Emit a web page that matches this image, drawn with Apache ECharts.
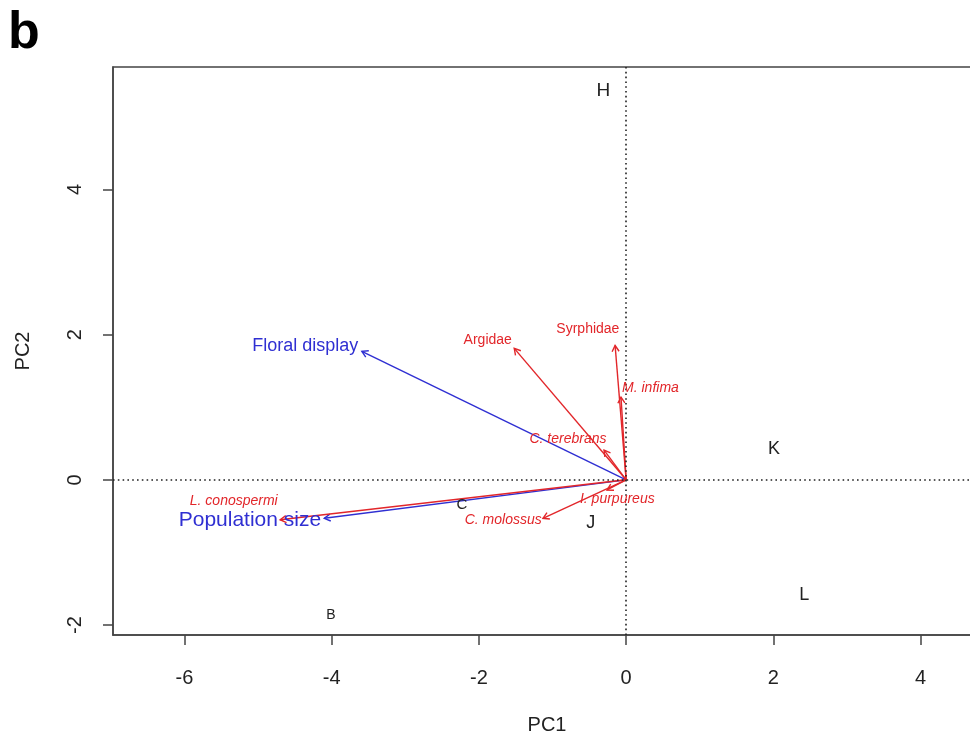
<!DOCTYPE html>
<html>
<head>
<meta charset="utf-8">
<script src="https://cdn.jsdelivr.net/npm/echarts@6/dist/echarts.min.js"></script>
<style>
  html, body { margin: 0; padding: 0; background: #fff; overflow: hidden; }
  #chart { width: 990px; height: 740px; }
</style>
</head>
<body>
<div id="chart"></div>
<script>
// Site scores on the first two principal components
const siteNames = ['H', 'K', 'L', 'J', 'C', 'B'];
const sitePC1 = [-0.31, 2.01, 2.42, -0.48, -2.23, -4.01];
const sitePC2 = [5.36, 0.42, -1.58, -0.59, -0.34, -1.86];

// Plant trait loadings (blue arrows)
const traitNames = ['Floral display', 'Population size'];
const traitPC1 = [-3.59, -4.10];
const traitPC2 = [1.77, -0.53];
const traitLabelPC1 = [-4.36, -5.11];
const traitLabelPC2 = [1.84, -0.56];

// Visitor taxon loadings (red arrows)
const taxonNames = ['L. conospermi', 'Argidae', 'Syrphidae', 'M. infima', 'C. terebrans', 'I. purpureus', 'C. molossus'];
const taxonPC1 = [-4.70, -1.52, -0.15, -0.07, -0.30, -0.26, -1.13];
const taxonPC2 = [-0.55, 1.81, 1.85, 1.14, 0.41, -0.14, -0.53];
const taxonLabelPC1 = [-5.33, -1.88, -0.52, 0.33, -0.79, -0.12, -1.67];
const taxonLabelPC2 = [-0.29, 1.93, 2.07, 1.26, 0.56, -0.26, -0.55];

// Axis tick labels
const xTicks = [-6, -4, -2, 0, 2, 4];
const yTicks = [-2, 0, 2, 4];

// Styling
const FONT = '"Liberation Sans", Arial, sans-serif';
const RED = '#e2262a';
const BLUE = '#2f2fd2';
const INK = '#222';
const siteFontSize = { H: 19, K: 18, L: 18, J: 18, C: 15, B: 14 };
const traitFontSize = { 'Floral display': 18, 'Population size': 21 };
const italicTaxa = new Set(['L. conospermi', 'M. infima', 'C. terebrans', 'I. purpureus', 'C. molossus']);

function arrowRenderer(color) {
  return function (params, api) {
    const o = api.coord([0, 0]);
    const t = api.coord([api.value(0), api.value(1)]);
    const ang = Math.atan2(t[1] - o[1], t[0] - o[0]);
    const len = 7, spread = Math.PI / 6;
    const h1 = [t[0] - len * Math.cos(ang - spread), t[1] - len * Math.sin(ang - spread)];
    const h2 = [t[0] - len * Math.cos(ang + spread), t[1] - len * Math.sin(ang + spread)];
    const style = { stroke: color, lineWidth: 1.4, fill: null };
    return {
      type: 'group',
      children: [
        { type: 'line', shape: { x1: o[0], y1: o[1], x2: t[0], y2: t[1] }, style: style },
        { type: 'polyline', shape: { points: [h1, t, h2] }, style: style }
      ]
    };
  };
}

function textRenderer(names, fontFor, color) {
  return function (params, api) {
    const p = api.coord([api.value(0), api.value(1)]);
    const name = names[params.dataIndex];
    return {
      type: 'text',
      x: p[0], y: p[1],
      style: {
        text: name,
        font: fontFor(name),
        fill: color,
        align: 'center',
        verticalAlign: 'middle'
      }
    };
  };
}

const pairs = (xs, ys) => xs.map((x, i) => [x, ys[i]]);

const chart = echarts.init(document.getElementById('chart'), null, { renderer: 'canvas' });

chart.setOption({
  backgroundColor: '#fff',
  animation: false,
  graphic: [{
    type: 'text', left: 8, top: 8,
    style: { text: 'b', font: 'bold 52px ' + FONT, fill: '#000' }
  }],
  grid: {
    left: 113, right: 9, top: 67, bottom: 102,
    show: true, borderColor: '#444', borderWidth: 1.5, backgroundColor: 'transparent'
  },
  xAxis: {
    type: 'value', min: -6.97, max: 4.82,
    splitLine: { show: false },
    axisLine: { show: true, onZero: false, lineStyle: { color: '#444', width: 1.5 } },
    axisTick: { show: true, length: 10, customValues: xTicks, lineStyle: { color: '#444', width: 1.5 } },
    axisLabel: { customValues: xTicks, margin: 33, fontSize: 20, color: INK, fontFamily: FONT },
    name: 'PC1', nameLocation: 'middle', nameGap: 80,
    nameTextStyle: { fontSize: 20, color: INK, fontFamily: FONT }
  },
  yAxis: {
    type: 'value', min: -2.137, max: 5.685,
    splitLine: { show: false },
    axisLine: { show: true, onZero: false, lineStyle: { color: '#444', width: 1.5 } },
    axisTick: { show: true, length: 10, customValues: yTicks, lineStyle: { color: '#444', width: 1.5 } },
    axisLabel: { customValues: yTicks, rotate: 90, margin: 28, fontSize: 20, color: INK, fontFamily: FONT },
    name: 'PC2', nameLocation: 'middle', nameGap: 80,
    nameTextStyle: { fontSize: 20, color: INK, fontFamily: FONT }
  },
  series: [
    {
      // dotted reference lines through the origin
      type: 'scatter', data: [], silent: true,
      markLine: {
        silent: true, symbol: 'none', label: { show: false },
        lineStyle: { color: '#222', width: 1.6, type: [1.6, 3.2] },
        data: [{ xAxis: 0 }, { yAxis: 0 }]
      }
    },
    {
      type: 'custom', name: 'traits', renderItem: arrowRenderer(BLUE),
      data: pairs(traitPC1, traitPC2), z: 3
    },
    {
      type: 'custom', name: 'taxa', renderItem: arrowRenderer(RED),
      data: pairs(taxonPC1, taxonPC2), z: 4
    },
    {
      type: 'custom', name: 'siteLabels',
      renderItem: textRenderer(siteNames, n => siteFontSize[n] + 'px ' + FONT, INK),
      data: pairs(sitePC1, sitePC2), z: 5
    },
    {
      type: 'custom', name: 'traitLabels',
      renderItem: textRenderer(traitNames, n => traitFontSize[n] + 'px ' + FONT, BLUE),
      data: pairs(traitLabelPC1, traitLabelPC2), z: 5
    },
    {
      type: 'custom', name: 'taxonLabels',
      renderItem: textRenderer(taxonNames, n => (italicTaxa.has(n) ? 'italic ' : '') + '14px ' + FONT, RED),
      data: pairs(taxonLabelPC1, taxonLabelPC2), z: 5
    }
  ]
});
</script>
</body>
</html>
